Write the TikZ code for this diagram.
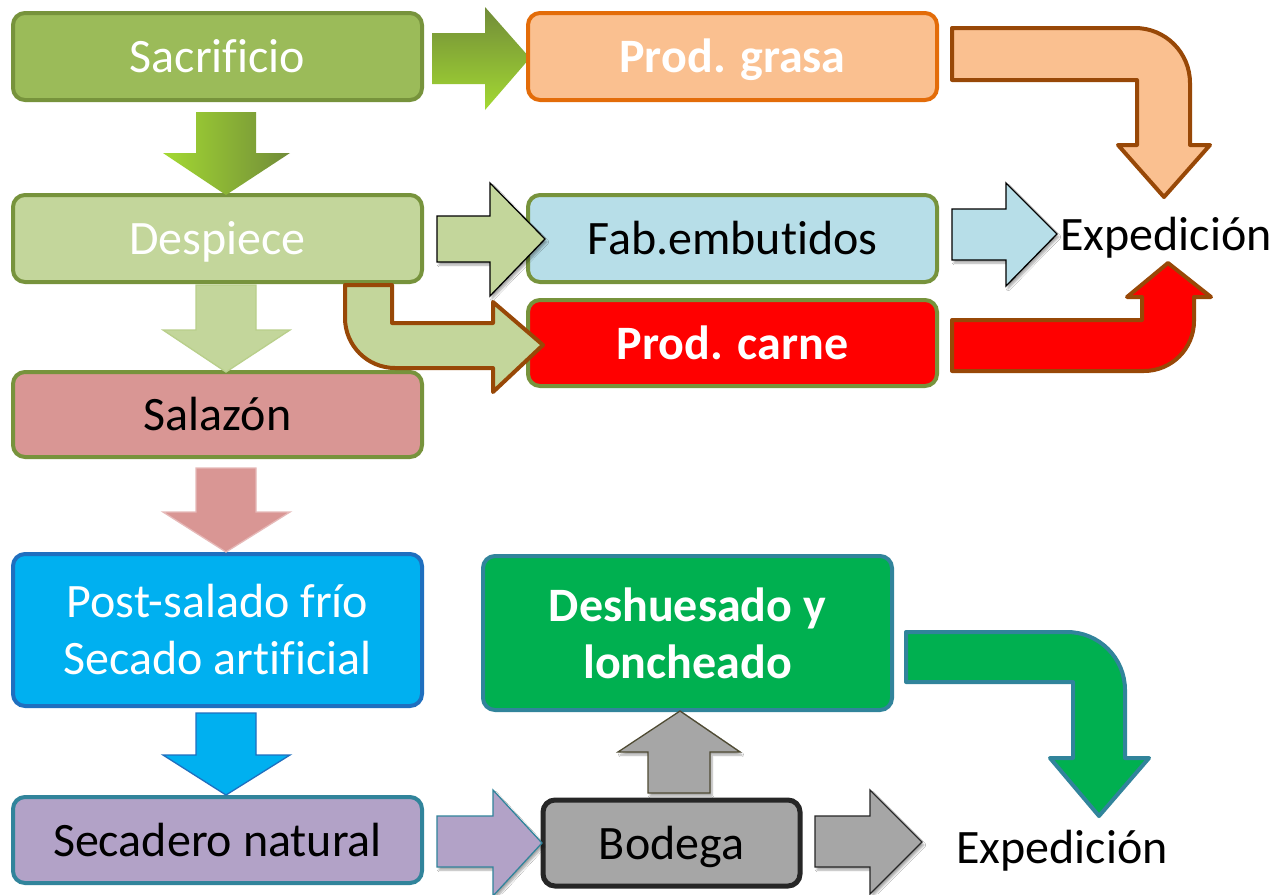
\documentclass[tikz,border=0pt]{standalone}
\usepackage{fontspec}
\setmainfont{Carlito}[Ligatures=NoCommon]
\usetikzlibrary{shadows.blur}
\definecolor{olive}{HTML}{77933C}
\definecolor{gA}{HTML}{9BBB59}
\definecolor{gB}{HTML}{C3D69B}
\definecolor{rose}{HTML}{D99694}
\definecolor{roseL}{HTML}{E6B9B8}
\definecolor{sky}{HTML}{00B0F0}
\definecolor{skyD}{HTML}{1F6FBF}
\definecolor{lav}{HTML}{B2A2C7}
\definecolor{teal}{HTML}{31849B}
\definecolor{peach}{HTML}{FAC090}
\definecolor{orng}{HTML}{E36C09}
\definecolor{lblue}{HTML}{B7DEE8}
\definecolor{brown}{HTML}{984807}
\definecolor{grn}{HTML}{00B050}
\definecolor{gry}{HTML}{A6A6A6}
\definecolor{dgry}{HTML}{262626}
\definecolor{dolive}{HTML}{4F4B33}
\tikzset{
  box/.style={draw=olive, rounded corners=12pt, line width=4pt, minimum width=409pt, align=center,
    font=\fontsize{48}{57}\selectfont, inner sep=0pt},
  one/.style={text height=40pt, text depth=8pt},
  boldtxt/.style={font=\fontsize{48}{57}\selectfont\bfseries},
  lbl/.style={font=\fontsize{48}{57}\selectfont, inner sep=0pt, text height=40pt, text depth=8pt},
  thinarrow/.style={line width=1.3pt, line join=miter},
  bentarrow/.style={line width=4pt, line join=round},
  shd/.style={blur shadow={shadow xshift=2pt, shadow yshift=-3pt, shadow blur steps=6, shadow opacity=35}}
}
\begin{document}
\begin{tikzpicture}[x=1pt,y=-1pt]
\useasboundingbox (0,0) rectangle (1274,894);
\fill[white] (0,0) rectangle (1274,894);
% arrow A (under the box)
\shade[top color=olive!95!black, bottom color=gA!80!green!70!yellow] (432,33) -- (485,33) -- (485,7) -- (530,58) -- (485,110) -- (485,84) -- (432,84) -- cycle;
% boxes
\node[box, one, fill=gA, text=white, minimum height=87pt] (sac) at (217.5,56.5) {Sacrificio};
\node[box, one, fill=gB, text=white, minimum height=87pt] (desp) at (217.5,238.5) {Despiece};
\node[box, one, fill=rose, text=black, minimum height=85pt] (sal) at (217.5,414.5) {Salazón};
\node[box, fill=sky, draw=skyD, text=white, minimum height=152pt] (post) at (217.5,630) {Post-salado frío\\Secado artificial};
\node[box, one, fill=lav, draw=teal, text=black, minimum height=86pt] (secn) at (217.5,840) {Secadero natural};
\node[box, one, boldtxt, fill=peach, draw=orng, text=white, minimum height=87pt] (grasa) at (732.5,56.5) {Prod. grasa};
\node[box, one, fill=lblue, text=black, minimum height=87pt] (emb) at (732.5,238.5) {Fab.embutidos};
\node[box, one, boldtxt, fill=red, text=white, minimum height=86pt] (carne) at (732.5,343) {Prod. carne};
\node[box, boldtxt, fill=grn, draw=teal, text=white, minimum height=154pt] (desh) at (687.5,633) {Deshuesado y\\loncheado};
\node[box, one, fill=gry, draw=dgry, line width=5pt, text=black, minimum width=257pt, minimum height=86pt] (bod) at (671.5,843) {Bodega};
\node[lbl] (exp1) at (1166,234) {Expedición};
\node[lbl] (exp2) at (1062,847) {Expedición};
% arrow B
\shade[left color=gA!80!green!70!yellow, right color=olive!95!black] (196,112) -- (256,112) -- (256,153) -- (290,153) -- (226,195) -- (163,153) -- (196,153) -- cycle;
% arrow C
\filldraw[fill=gB, draw=black, thinarrow, shd] (437,216) -- (490,216) -- (490,183) -- (545,239) -- (490,296) -- (490,262) -- (437,262) -- cycle;
% arrow D
\filldraw[fill=gB, draw=gA!70, thinarrow] (196,285) -- (256,285) -- (256,330) -- (290,330) -- (226,372) -- (163,330) -- (196,330) -- cycle;
% arrow E (bent)
\filldraw[fill=gB, draw=brown, bentarrow] (345,285) -- (392,285) -- (392,323) -- (493,323) -- (493,302) -- (543,345) -- (493,392) -- (493,368) -- (395,368) .. controls (367.4,368) and (345,345.6) .. (345,318) -- cycle;
% arrow F (bent)
\filldraw[fill=peach, draw=brown, bentarrow] (952,28) -- (1135,28) .. controls (1165.4,28) and (1190,52.6) .. (1190,83) -- (1190,145) -- (1210,145) -- (1164,197) -- (1118,145) -- (1137,145) -- (1137,80) -- (952,80) -- cycle;
% arrow G
\filldraw[fill=lblue, draw=black, thinarrow, shd] (952,209) -- (1006,209) -- (1006,183) -- (1057,234) -- (1006,286) -- (1006,260) -- (952,260) -- cycle;
% arrow H (bent)
\filldraw[fill=red, draw=brown, bentarrow] (952,320) -- (1142,320) -- (1142,297) -- (1127,297) -- (1168,263) -- (1211,297) -- (1194,297) -- (1194,321) .. controls (1194,348.6) and (1171.6,371) .. (1144,371) -- (952,371) -- cycle;
% arrow I
\filldraw[fill=rose, draw=roseL, thinarrow] (196,468) -- (256,468) -- (256,512) -- (290,512) -- (226,552) -- (163,512) -- (196,512) -- cycle;
% arrow J
\filldraw[fill=sky, draw=skyD, thinarrow] (196,713) -- (256,713) -- (256,755) -- (290,755) -- (226,795) -- (163,755) -- (196,755) -- cycle;
% arrow K
\filldraw[fill=lav, draw=teal, thinarrow, shd] (437,816) -- (493,816) -- (493,790) -- (542,843) -- (493,896) -- (493,867) -- (437,867) -- cycle;
% arrow L
\filldraw[fill=gry, draw=dolive, thinarrow, shd] (648,793) -- (710,793) -- (710,752) -- (740,752) -- (680,711) -- (618,752) -- (648,752) -- cycle;
% arrow M
\filldraw[fill=gry, draw=dgry, thinarrow, shd] (815,816) -- (870,816) -- (870,790) -- (922,842) -- (870,894) -- (870,867) -- (815,867) -- cycle;
% arrow N (bent)
\filldraw[fill=grn, draw=teal, bentarrow] (906,632) -- (1067,632) .. controls (1099,632) and (1125,658) .. (1125,690) -- (1125,758) -- (1149,758) -- (1099,816) -- (1050,758) -- (1073,758) -- (1073,682) -- (906,682) -- cycle;
\end{tikzpicture}
\end{document}
